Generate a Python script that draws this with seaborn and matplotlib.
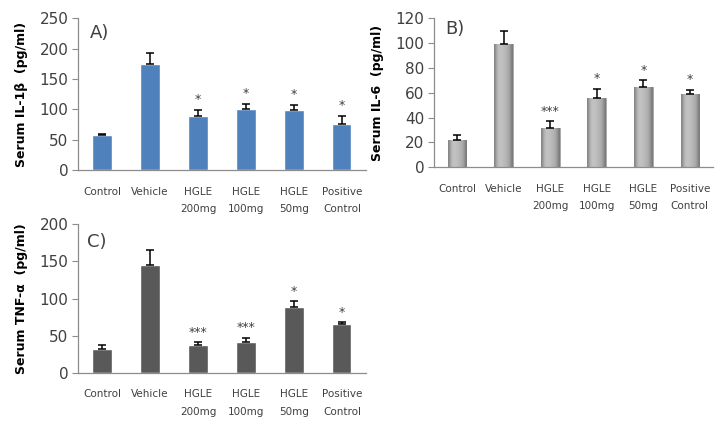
import numpy as np
import pandas as pd
import matplotlib
matplotlib.use("Agg")
import matplotlib.pyplot as plt
import seaborn as sns

# data
groups = ["Control", "Vehicle", "HGLE\n200mg", "HGLE\n100mg", "HGLE\n50mg", "Positive\nControl"]

il1b_mean = [57, 174, 89, 101, 99, 75]
il1b_err = [2, 18, 10, 8, 8, 14]
il1b_sig = ["", "", "*", "*", "*", "*"]

il6_mean = [22, 99.5, 32, 56, 65, 59]
il6_err = [4, 10, 5, 7, 5, 3.5]
il6_sig = ["", "", "***", "*", "*", "*"]

tnf_mean = [32, 145, 38, 41, 88, 65]
tnf_err = [5, 21, 3, 6, 8, 3]
tnf_sig = ["", "", "***", "***", "*", "*"]

sns.set_style("white")
plt.rcParams["font.family"] = ["DejaVu Sans"]

fig = plt.figure(figsize=(7.16, 4.22), dpi=100)
ax_a = fig.add_axes([0.109, 0.597, 0.402, 0.360])
ax_b = fig.add_axes([0.606, 0.6035, 0.39, 0.353])
ax_c = fig.add_axes([0.109, 0.1168, 0.402, 0.3517])

spine_col = "#8c8c8c"
text_col = "#404040"


def gradient_bars(ax):
    # cylinder-like shading on the bars, like the Excel style
    prof = np.array([0.52, 0.64, 0.73, 0.76, 0.76, 0.75, 0.73, 0.71, 0.69, 0.65, 0.57, 0.48])
    img = np.tile(prof, (2, 1))
    for p in list(ax.patches):
        x0, y0 = p.get_x(), p.get_y()
        w, h = p.get_width(), p.get_height()
        im = ax.imshow(img, cmap="gray", vmin=0, vmax=1, aspect="auto",
                       extent=[x0, x0 + w, y0, y0 + h], zorder=p.get_zorder(),
                       interpolation="bicubic")
        im.set_clip_path(p)
        p.set_facecolor("none")
        p.set_edgecolor("#9a9a9a")
        p.set_linewidth(0.6)


def panel(ax, mean, err, sig, color, ymax, step, ylabel, letter, letter_xy, shaded=False):
    df = pd.DataFrame({"group": groups, "value": mean})
    sns.barplot(data=df, x="group", y="value", color=color, width=0.4,
                saturation=1, ax=ax, errorbar=None)
    if shaded:
        gradient_bars(ax)
    x = np.arange(len(mean))
    ax.errorbar(x, mean, yerr=[np.zeros(len(err)), err], fmt="none",
                ecolor="black", elinewidth=1.1, capsize=3, capthick=1.1, zorder=5)
    pad = ymax * 0.025
    for xi, m, e, s in zip(x, mean, err, sig):
        if s:
            ax.text(xi, m + e + pad, s, ha="center", va="bottom",
                    fontsize=9, color=text_col)

    ax.set_xlim(-0.5, len(mean) - 0.5)
    ax.set_ylim(0, ymax)
    ax.set_yticks(np.arange(0, ymax + 1, step))
    ax.set_xticks(x)
    ax.set_xticklabels(groups, fontsize=7.5, color=text_col, linespacing=1.9)
    ax.set_xticks(np.arange(-0.5, len(mean), 1), minor=True)
    ax.tick_params(axis="x", which="major", length=0, pad=12)
    ax.tick_params(axis="x", which="minor", length=5, color=spine_col, width=0.8, direction="out")
    ax.tick_params(axis="y", length=4, color=spine_col, width=0.8, direction="out",
                   labelsize=11, labelcolor=text_col, pad=3, left=True)
    for side in ["top", "right"]:
        ax.spines[side].set_visible(False)
    for side in ["left", "bottom"]:
        ax.spines[side].set_color(spine_col)
        ax.spines[side].set_linewidth(0.9)
    ax.set_xlabel("")
    ax.set_ylabel(ylabel, fontsize=9, fontweight="bold", color="black", labelpad=8)
    ax.text(letter_xy[0], letter_xy[1], letter, transform=ax.transAxes,
            fontsize=13, color=text_col, va="center", ha="left")


panel(ax_a, il1b_mean, il1b_err, il1b_sig, "#4f81bd", 250, 50,
      "Serum IL-1\u03b2  (pg/ml)", "A)", (0.04, 0.90))
panel(ax_b, il6_mean, il6_err, il6_sig, "#b0b0b0", 120, 20,
      "Serum IL-6  (pg/ml)", "B)", (0.04, 0.93), shaded=True)
panel(ax_c, tnf_mean, tnf_err, tnf_sig, "#595959", 200, 50,
      "Serum TNF-\u03b1  (pg/ml)", "C)", (0.03, 0.88))

fig.savefig("out.png", dpi=100)
